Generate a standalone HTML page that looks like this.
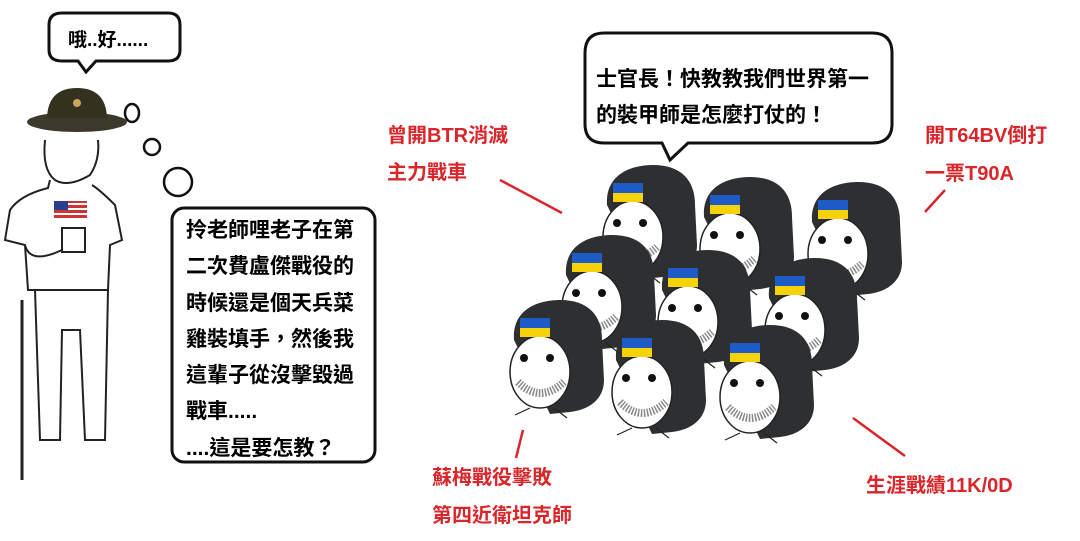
<!DOCTYPE html>
<html><head><meta charset="utf-8"><style>
html,body{margin:0;padding:0;background:#fff;}
body{width:1080px;height:541px;overflow:hidden;position:relative;font-family:"Liberation Sans","Noto Sans CJK TC",sans-serif;}
.t{position:absolute;white-space:nowrap;font-weight:bold;}
.red{color:#d8262b;font-size:20px;}
</style></head><body>
<svg width="1080" height="541" style="position:absolute;left:0;top:0">
<defs>
<g id="head">
 <path d="M4,40 C2,8 30,0 50,0 C78,0 92,15 92,40 L94,80 C94,100 78,110 60,112 L40,114 Z" fill="#2e2f31"/>
 <ellipse cx="30" cy="72" rx="30" ry="36" fill="#fff" stroke="#222" stroke-width="1.5"/>
 <rect x="10" y="18" width="30" height="10" fill="#1e5bc6"/>
 <rect x="10" y="28" width="30" height="9" fill="#f5d20a"/>
 <circle cx="14" cy="58" r="4" fill="#111"/><circle cx="40" cy="58" r="4" fill="#111"/>
 <path d="M8,82 Q30,104 54,82" fill="none" stroke="#888" stroke-width="8" stroke-dasharray="1.5,1.5"/>
 <path d="M20,108 L5,115 M44,108 L57,118" stroke="#222" stroke-width="1.2"/>
</g>
</defs>
<path d="M62,13 H168 Q180,13 180,25 V50 Q180,61 168,61 H96 L86,72 L78,61 H62 Q49,61 49,50 V25 Q49,13 62,13 Z" fill="#fff" stroke="#111" stroke-width="3"/>
<ellipse cx="132" cy="113" rx="7" ry="9" fill="#fff" stroke="#111" stroke-width="2.5"/>
<ellipse cx="152" cy="147" rx="8" ry="8" fill="#fff" stroke="#111" stroke-width="2.5"/>
<ellipse cx="178" cy="182" rx="14" ry="14" fill="#fff" stroke="#111" stroke-width="2.5"/>
<rect x="172" y="208" width="203" height="254" rx="12" fill="#fff" stroke="#111" stroke-width="3"/>
<g fill="none" stroke="#222" stroke-width="2">
 <path d="M45,140 Q42,170 55,180 Q68,188 90,175 Q100,160 98,140"/>
 <path d="M50,180 L48,188 Q20,195 10,210 L5,240 L25,245 L28,290 L108,290 L110,245 L122,240 L115,205 Q100,190 92,185"/>
 <path d="M35,290 L40,440 L60,440 L62,330 L80,330 L85,440 L105,440 L108,290"/>
 <path d="M22,300 L22,480" stroke-width="3"/>
 <path d="M62,228 L85,228 L85,252 L62,252 Z"/>
 <path d="M25,245 Q30,265 62,250"/>
</g>
<ellipse cx="77" cy="122" rx="50" ry="10" fill="#3b3a2a"/>
<path d="M47,118 Q48,88 77,88 Q106,88 107,118 Z" fill="#34321f"/>
<circle cx="77" cy="103" r="4" fill="#c9a45a"/>
<rect x="54" y="201" width="33" height="17" fill="#c33"/>
<rect x="54" y="203" width="33" height="2" fill="#fff"/><rect x="54" y="208" width="33" height="2" fill="#fff"/><rect x="54" y="213" width="33" height="2" fill="#fff"/>
<rect x="54" y="201" width="14" height="9" fill="#2c3f8f"/>
<path d="M604,33 H872 Q892,33 892,53 V124 Q892,143 872,143 H688 L670,160 L662,143 H604 Q585,143 585,124 V53 Q585,33 604,33 Z" fill="#fff" stroke="#111" stroke-width="3"/>
<g stroke="#d8262b" stroke-width="2.5">
 <line x1="500" y1="180" x2="562" y2="213"/>
 <line x1="945" y1="190" x2="925" y2="212"/>
 <line x1="523" y1="430" x2="516" y2="458"/>
 <line x1="853" y1="418" x2="905" y2="456"/>
</g>
<use href="#head" x="603" y="165"/>
<use href="#head" x="700" y="177"/>
<use href="#head" x="808" y="182"/>
<use href="#head" x="562" y="235"/>
<use href="#head" x="658" y="250"/>
<use href="#head" x="765" y="258"/>
<use href="#head" x="510" y="300"/>
<use href="#head" x="612" y="320"/>
<use href="#head" x="720" y="325"/>
</svg>
<div class="t" style="left:68px;top:25px;font-size:19px;">哦..好......</div>
<div class="t" style="left:186px;top:213px;font-size:21px;line-height:36.3px;">拎老師哩老子在第<br>二次費盧傑戰役的<br>時候還是個天兵菜<br>雞裝填手，然後我<br>這輩子從沒擊毀過<br>戰車.....<br>....這是要怎教？</div>
<div class="t" style="left:596px;top:62px;font-size:21px;line-height:36px;">士官長！快教教我們世界第一<br>的裝甲師是怎麼打仗的！</div>
<div class="t red" style="left:387px;top:118px;line-height:37px;">曾開BTR消滅<br>主力戰車</div>
<div class="t red" style="left:925px;top:117px;line-height:38px;">開T64BV倒打<br>一票T90A</div>
<div class="t red" style="left:432px;top:459px;line-height:38px;">蘇梅戰役擊敗<br>第四近衛坦克師</div>
<div class="t red" style="left:866px;top:469px;">生涯戰績11K/0D</div>
</body></html>
